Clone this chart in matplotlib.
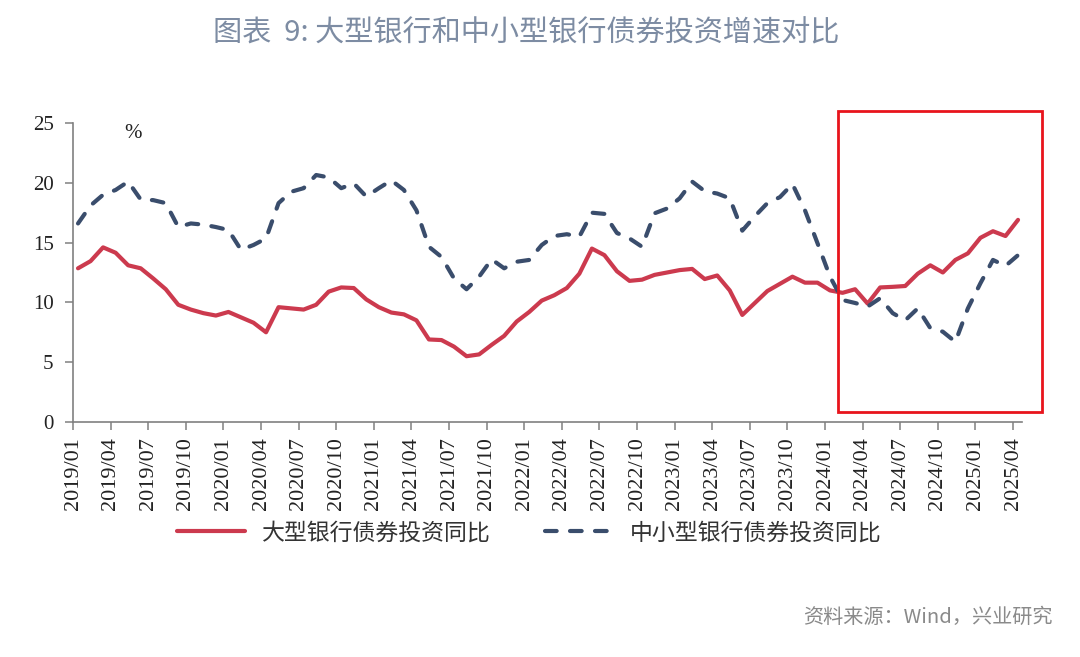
import numpy as np
import matplotlib
matplotlib.use("Agg")
import matplotlib.pyplot as plt
from matplotlib.patches import Rectangle

# ---- data (monthly, 2019/01 - 2025/04, %) ----
months = [f"{y}/{m:02d}" for y in range(2019, 2026) for m in range(1, 13)][:76]

large_banks = [
    12.85, 13.45, 14.6, 14.15, 13.1, 12.85, 12.0, 11.1, 9.8, 9.4,
    9.1, 8.9, 9.2, 8.75, 8.3, 7.5, 9.6, 9.5, 9.4, 9.8,
    10.9, 11.25, 11.2, 10.25, 9.6, 9.15, 9.0, 8.5, 6.9, 6.85,
    6.3, 5.5, 5.65, 6.45, 7.2, 8.4, 9.2, 10.15, 10.6, 11.2,
    12.4, 14.5, 13.95, 12.6, 11.8, 11.9, 12.3, 12.5, 12.7, 12.8,
    11.95, 12.25, 11.0, 8.95, 9.95, 10.95, 11.55, 12.15, 11.65, 11.65,
    11.0, 10.8, 11.1, 9.9, 11.25, 11.3, 11.37, 12.4, 13.1, 12.5,
    13.55, 14.1, 15.4, 15.95, 15.55, 16.9,
]

small_mid_banks = [
    16.6, 18.1, 19.0, 19.4, 20.1, 18.6, 18.55, 18.3, 16.3, 16.6,
    16.5, 16.3, 16.05, 14.4, 14.8, 15.35, 18.3, 19.25, 19.55, 20.65,
    20.45, 19.55, 19.95, 18.85, 19.55, 20.2, 19.4, 17.7, 14.65, 13.8,
    12.0, 11.1, 12.15, 13.6, 12.85, 13.4, 13.55, 14.8, 15.55, 15.7,
    15.5, 17.5, 17.4, 15.8, 15.35, 14.65, 17.45, 17.85, 18.7, 20.1,
    19.3, 19.1, 18.7, 16.0, 17.2, 18.3, 18.8, 19.9, 17.7, 14.95,
    12.15, 10.2, 9.95, 9.65, 10.35, 9.1, 8.5, 9.5, 7.85, 7.55,
    6.7, 9.5, 11.6, 13.55, 13.05, 13.95,
]

label_large = "大型银行债券投资同比"
label_small = "中小型银行债券投资同比"
title = "图表  9: 大型银行和中小型银行债券投资增速对比"
source = "资料来源：Wind，兴业研究"

RED = "#CC3A4E"
BLUE = "#3A4D6C"
SERIF = ["Liberation Serif", "DejaVu Serif"]
CJK = ["Noto Sans CJK SC", "DejaVu Sans"]

fig = plt.figure(figsize=(10.8, 6.57), dpi=100)
ax = fig.add_axes([0.0676, 0.3577, 0.8785, 0.4551])

x = np.arange(len(months)) + 0.4
ax.plot(x, large_banks, color=RED, lw=3, solid_capstyle="round",
        solid_joinstyle="round", label=label_large)
ax.plot(x, small_mid_banks, color=BLUE, lw=3, linestyle=(0, (2.8, 3.2)),
        dash_capstyle="round", label=label_small)

ax.set_xlim(0, 75.7)
ax.set_ylim(0, 25)
ax.set_yticks(range(0, 26, 5))
ax.set_xticks(range(0, len(months), 3))
ax.set_xticklabels(months[::3], rotation=90, family=SERIF, fontsize=16)
for t in ax.get_yticklabels():
    t.set_family(SERIF)
    t.set_fontsize(15)

for s in ["top", "right"]:
    ax.spines[s].set_visible(False)
for s in ["left", "bottom"]:
    ax.spines[s].set_color("#808080")
    ax.spines[s].set_linewidth(1.2)
ax.tick_params(axis="both", direction="out", length=6, width=1.1,
               color="#808080", labelcolor="#222222")
ax.tick_params(axis="x", pad=5)
ax.tick_params(axis="y", pad=8)

ax.text(0.063, 0.965, "%", transform=ax.transAxes, family=SERIF,
        fontsize=15, color="#222222", ha="center", va="center")

# highlight box
fig.patches.append(Rectangle((838 / 1080, 1 - 412 / 657), 204 / 1080, 301 / 657,
                             transform=fig.transFigure, fill=False,
                             edgecolor="#E8141C", lw=2))

fig.text(0.487, 1 - 33 / 657, title, family=CJK, fontsize=21, weight="medium",
         color="#7D8CA3", ha="center", va="center")

leg = fig.legend(loc="center", bbox_to_anchor=(0.49, 0.189), ncol=2,
                 frameon=False, prop={"family": CJK, "size": 16.5},
                 handlelength=3.0, columnspacing=2.4, handletextpad=0.7)
for t in leg.get_texts():
    t.set_color("#333333")

fig.text(0.975, 1 - 617 / 657, source, family=CJK, fontsize=14.5,
         color="#8A8A8A", ha="right", va="center")

fig.savefig("out.png", dpi=100, facecolor="white")
